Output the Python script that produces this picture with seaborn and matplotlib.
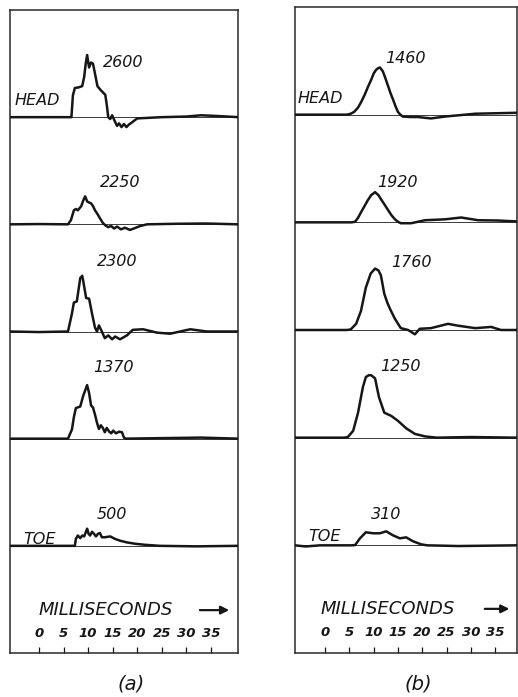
import matplotlib
matplotlib.use("Agg")
import matplotlib.pyplot as plt
import numpy as np
import pandas as pd
import seaborn as sns

# ---------------------------------------------------------------------------
# Pressure-time records, head (top) to toe (bottom).
# Each record: sample times (ms) and amplitude as a fraction of its peak.
# ---------------------------------------------------------------------------
stations = ["HEAD", "", "", "", "TOE"]

# (a) -----------------------------------------------------------------------
peaks_a = [2600, 2250, 2300, 1370, 500]
gain_a = [0.223, 0.116, 0.226, 0.365, 0.32]   # row heights per 1000 units

t_a1 = [-5.9, 2.0, 6.6, 6.9, 7.3, 8.1, 8.8, 9.2, 9.5, 9.8, 10.2, 10.6, 11.0,
        11.4, 11.9, 12.4, 13.0, 13.5, 13.8, 14.1, 14.5, 14.9, 15.4, 15.9,
        16.3, 16.8, 17.3, 17.8, 18.3, 19.0, 20.0, 25.0, 30.0, 33.0, 36.0, 40.6]
v_a1 = [0, 0, 0, 0.35, 0.47, 0.48, 0.5, 0.65, 0.85, 1.0, 0.8, 0.88, 0.86,
        0.7, 0.5, 0.45, 0.4, 0.36, 0.2, 0.0, -0.03, 0.03, -0.06, -0.14,
        -0.1, -0.16, -0.11, -0.16, -0.12, -0.08, -0.02, 0.0, 0.01, 0.03, 0.02, 0.0]

t_a2 = [-5.9, 0, 5.9, 6.5, 7.1, 7.5, 7.9, 8.6, 9.0, 9.4, 9.8, 10.2, 10.6,
        11.0, 11.4, 11.8, 12.4, 13.0, 13.6, 14.1, 14.7, 15.3, 15.9, 16.7,
        17.5, 18.5, 19.3, 20.6, 22.0, 28, 34, 40.6]
v_a2 = [0, 0.01, 0, 0.15, 0.5, 0.55, 0.5, 0.65, 0.85, 1.0, 0.82, 0.78, 0.75,
        0.65, 0.5, 0.4, 0.22, 0.05, -0.05, -0.1, -0.06, -0.15, -0.08, -0.18,
        -0.12, -0.2, -0.15, -0.06, 0, 0.02, 0.03, 0]

t_a3 = [-5.9, 0, 5.9, 6.7, 7.1, 7.7, 8.4, 8.8, 9.0, 9.6, 10.2, 10.8, 11.4,
        11.8, 12.2, 12.8, 13.4, 14.1, 14.9, 15.5, 16.5, 17.9, 19.1, 21.2,
        24.0, 26.7, 30.8, 34.2, 40.6]
v_a3 = [0, -0.01, 0, 0.32, 0.52, 0.54, 0.96, 1.0, 0.91, 0.6, 0.59, 0.32, 0.07,
        0.0, 0.11, 0.0, -0.12, -0.07, -0.14, -0.09, -0.14, -0.07, 0.03, 0.04,
        -0.02, -0.04, 0.04, 0, 0]

t_a4 = [-5.9, 0, 5.9, 6.7, 7.1, 7.5, 8.4, 9.0, 9.4, 9.8, 10.2, 10.6, 11.0,
        11.4, 11.8, 12.2, 12.6, 13.0, 13.4, 13.8, 14.3, 14.7, 15.1, 15.7,
        16.3, 16.9, 17.3, 17.7, 25, 33, 40.6]
v_a4 = [0, 0, 0, 0.17, 0.4, 0.57, 0.6, 0.8, 0.9, 1.0, 0.85, 0.62, 0.58,
        0.45, 0.3, 0.18, 0.25, 0.2, 0.12, 0.2, 0.13, 0.1, 0.15, 0.1,
        0.13, 0.12, 0.02, 0.0, 0.01, 0.02, 0]

t_a5 = [-5.9, 0, 7.3, 7.5, 7.9, 8.4, 8.8, 9.2, 9.6, 9.8, 10.1, 10.4, 10.8,
        11.2, 11.6, 12.0, 12.4, 12.8, 13.4, 14.5, 15.5, 16.5, 17.9, 19.6,
        21.6, 24.6, 32, 40.6]
v_a5 = [0, 0, 0, 0.4, 0.6, 0.45, 0.6, 0.55, 0.85, 1.0, 0.7, 0.6, 0.82,
        0.7, 0.55, 0.7, 0.75, 0.5, 0.5, 0.55, 0.4, 0.3, 0.2, 0.12,
        0.06, 0.0, -0.03, 0]

# (b) -----------------------------------------------------------------------
peaks_b = [1460, 1920, 1760, 1250, 310]
gain_b = [0.30, 0.146, 0.324, 0.464, 0.42]

t_b1 = [-6.2, 0, 4.5, 5.3, 6.0, 6.8, 7.5, 8.2, 8.8, 9.5, 10.0, 10.5, 11.0,
        11.3, 11.9, 12.4, 13.0, 13.5, 14.0, 14.5, 15.0, 15.5, 16.0, 17.5,
        19.1, 21.8, 24.7, 30.9, 39.5]
v_b1 = [0, 0, 0, 0.02, 0.06, 0.15, 0.28, 0.43, 0.58, 0.74, 0.87, 0.95, 0.99,
        1.0, 0.92, 0.78, 0.6, 0.45, 0.32, 0.18, 0.06, 0.0, -0.04, -0.05,
        -0.05, -0.08, -0.04, 0.02, 0.04]

t_b2 = [-6.2, 0, 5.5, 6.2, 6.8, 7.4, 8.1, 8.8, 9.5, 10.3, 11.0, 11.5, 12.2,
        13.0, 13.7, 14.4, 15.0, 15.6, 17.7, 20.6, 24.7, 28.0, 31.5, 35.6, 39.5]
v_b2 = [0, 0, 0, 0.02, 0.15, 0.33, 0.53, 0.73, 0.9, 1.0, 0.9, 0.77, 0.6,
        0.4, 0.23, 0.1, 0.02, -0.03, -0.03, 0.07, 0.1, 0.16, 0.07, 0.06, 0.03]

t_b3 = [-6.2, 0, 4.5, 5.3, 6.4, 7.4, 8.4, 9.4, 10.3, 11.0, 11.5, 12.2, 12.8,
        13.4, 14.4, 15.6, 17.1, 18.5, 19.5, 21.8, 25.3, 27.4, 30.9, 34.2,
        36.2, 39.5]
v_b3 = [0, 0, 0, 0.01, 0.1, 0.31, 0.69, 0.92, 1.0, 0.97, 0.89, 0.59, 0.45,
        0.34, 0.18, 0.03, 0.0, -0.07, 0.02, 0.03, 0.1, 0.07, 0.03, 0.05,
        0.0, 0.0]

t_b4 = [-6.2, 0, 4.0, 4.7, 5.8, 6.8, 7.8, 8.4, 9.0, 9.5, 10.3, 11.1, 12.2,
        13.6, 15.0, 16.7, 18.5, 20.6, 23.0, 30, 39.5]
v_b4 = [0, 0, 0, 0.01, 0.11, 0.4, 0.81, 0.97, 1.0, 1.0, 0.95, 0.65, 0.4,
        0.35, 0.27, 0.15, 0.06, 0.02, 0.0, 0.01, 0]

t_b5 = [-6.2, -4.0, -1.0, 5.5, 6.2, 7.2, 8.4, 9.9, 11.3, 12.6, 14.0, 15.4,
        16.7, 18.1, 19.8, 21.0, 27.4, 39.5]
v_b5 = [0, -0.08, 0, 0, 0.02, 0.5, 0.93, 0.86, 0.86, 1.0, 0.71, 0.5,
        0.57, 0.29, 0.07, 0.0, -0.05, 0]

ms_ticks = [0, 5, 10, 15, 20, 25, 30, 35]

# ---------------------------------------------------------------------------
sns.set_style("white")
plt.rcParams["font.family"] = ["DejaVu Sans"]

INK = "#161616"
W, H = 518, 697
fig = plt.figure(figsize=(W / 100, H / 100), dpi=100)
fig.patch.set_facecolor("white")


def make_frame(data, peaks, gains, rect, xlim, label_pos, arrow):
    ax = fig.add_axes(rect)
    n = len(data)
    rows = []
    for i, ((t, v), pk, g) in enumerate(zip(data, peaks, gains)):
        base = n - i
        amp = np.asarray(v) * pk                   # record in its own units
        y = base + amp * g / 1000.0
        rows.append(pd.DataFrame({"ms": t, "y": y, "row": i}))
    df = pd.concat(rows, ignore_index=True)

    # zero lines, one per record, across the whole frame
    for i in range(n):
        ax.axhline(n - i, color="#3a3a3a", lw=0.7, zorder=1)

    sns.lineplot(data=df, x="ms", y="y", units="row", estimator=None,
                 sort=False, color=INK, lw=1.8, ax=ax, zorder=3,
                 legend=False)

    ax.set_xlim(*xlim)
    ax.set_ylim(0, n + 1)
    ax.set_xlabel("")
    ax.set_ylabel("")
    ax.set_yticks([])
    ax.set_xticks(ms_ticks)
    ax.tick_params(axis="x", direction="in", length=4, width=0.9,
                   bottom=True, labelbottom=False, color=INK)
    for s in ax.spines.values():
        s.set_visible(True)
        s.set_color("#2a2a2a")
        s.set_linewidth(1.1)

    txt = dict(color=INK, style="italic", va="center", ha="left")
    for pk, (px, py) in zip(peaks, label_pos["peak"]):
        ax.text(px, py, f"{pk}", fontsize=11.5, **txt)
    for name, (sx, sy) in zip(["HEAD", "TOE"], label_pos["station"]):
        ax.text(sx, sy, name, fontsize=11.5, **txt)

    mx, my = label_pos["ms"]
    ax.text(mx, my, "MILLISECONDS", fontsize=13, **txt)
    ax.annotate("", xy=(arrow[1], my), xytext=(arrow[0], my),
                arrowprops=dict(arrowstyle="-|>", color=INK, lw=1.6,
                                mutation_scale=12))
    for tk in ms_ticks:
        ax.text(tk, label_pos["tick_y"], f"{tk}", fontsize=9.5,
                fontweight="bold", style="italic", color=INK,
                ha="center", va="center")
    return ax


def rect_px(left, top, right, bottom):
    return [left / W, 1 - bottom / H, (right - left) / W, (bottom - top) / H]


data_a = [(t_a1, v_a1), (t_a2, v_a2), (t_a3, v_a3), (t_a4, v_a4), (t_a5, v_a5)]
data_b = [(t_b1, v_b1), (t_b2, v_b2), (t_b3, v_b3), (t_b4, v_b4), (t_b5, v_b5)]

make_frame(
    data_a, peaks_a, gain_a, rect_px(10, 10, 238, 653), (-5.91, 40.53),
    {"peak": [(13.0, 5.51), (12.4, 4.39), (11.8, 3.65), (11.0, 2.66), (11.8, 1.29)],
     "station": [(-4.9, 5.16), (-3.3, 1.06)],
     "ms": (0.0, 0.40), "tick_y": 0.18},
    (32.2, 39.3))

make_frame(
    data_b, peaks_b, gain_b, rect_px(295, 7, 517, 653), (-6.17, 39.5),
    {"peak": [(12.3, 5.52), (10.7, 4.37), (13.6, 3.63), (11.3, 2.66), (9.5, 1.29)],
     "station": [(-5.6, 5.15), (-3.5, 1.08)],
     "ms": (-1.0, 0.41), "tick_y": 0.19},
    (32.3, 38.5))

fig.text(131 / W, 1 - 684 / H, "(a)", fontsize=14, style="italic",
         color=INK, ha="center", va="center")
fig.text(418 / W, 1 - 684 / H, "(b)", fontsize=14, style="italic",
         color=INK, ha="center", va="center")

fig.savefig("out.png", dpi=100, facecolor="white")
